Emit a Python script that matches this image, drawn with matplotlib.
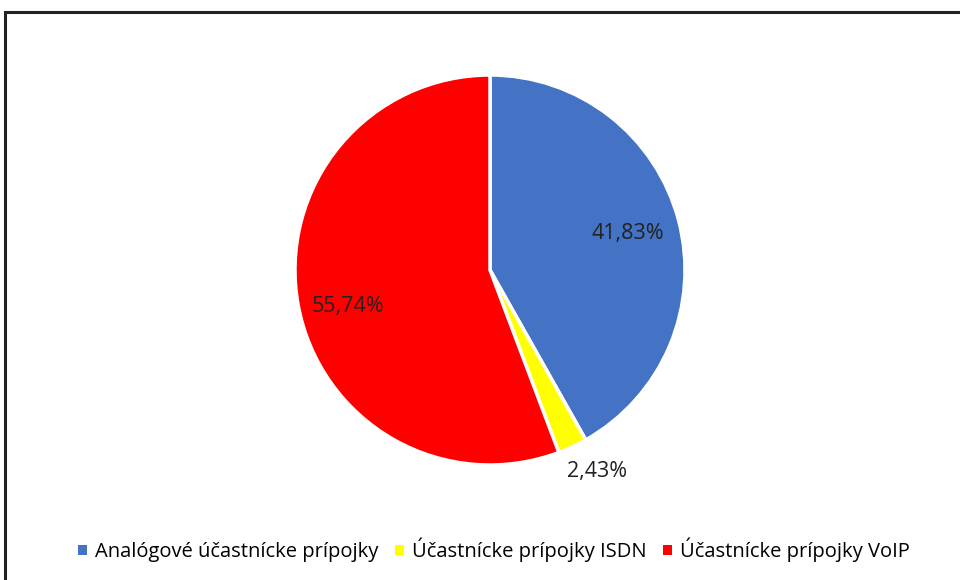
import numpy as np
import matplotlib
matplotlib.use("Agg")
from matplotlib import pyplot as plt
from matplotlib.patches import Rectangle, Patch

plt.rcParams["font.family"] = ["Open Sans", "DejaVu Sans"]

# data
categories = ["Analógové účastnícke prípojky", "Účastnícke prípojky ISDN", "Účastnícke prípojky VoIP"]
shares = [41.83, 2.43, 55.74]
colors = ["#4472C4", "#FFFF00", "#FF0000"]

fig = plt.figure(figsize=(9.6, 5.8), dpi=100)
ax = fig.add_axes([0, 0, 1, 1])

wedges, texts, autotexts = ax.pie(
    shares, colors=colors, startangle=90, counterclock=False,
    center=(490, 310), radius=195,
    autopct=lambda p: f"{p:.2f}%".replace(".", ","),
    pctdistance=0.73,
    wedgeprops=dict(edgecolor="white", linewidth=2.5),
    textprops=dict(fontsize=15.5, color="#222222"),
)
# pie resets limits, so set pixel-like limits afterwards
ax.set_xlim(0, 960)
ax.set_ylim(0, 580)
ax.set_aspect("equal")
ax.axis("off")

# outer chart frame (cut off at right and bottom like the reference)
fig.patches.append(Rectangle((5 / 960, -0.05), 1.1, 1 - 12 / 580 + 0.05,
                             transform=fig.transFigure, fill=False,
                             edgecolor="#222222", linewidth=2.2, clip_on=False))

# small slice label sits outside the pie
w = wedges[1]
mid = np.deg2rad((w.theta1 + w.theta2) / 2 + 3)
autotexts[1].set_position((490 + 1.17 * 195 * np.cos(mid), 310 + 1.17 * 195 * np.sin(mid)))
w = wedges[2]
mid = np.deg2rad((w.theta1 + w.theta2) / 2 + 4)
autotexts[2].set_position((490 + 0.75 * 195 * np.cos(mid), 310 + 0.75 * 195 * np.sin(mid)))

handles = [Patch(facecolor=c, edgecolor="none") for c in colors]
ax.legend(handles, categories, loc="center", bbox_to_anchor=(494 / 960, 30 / 580),
          bbox_transform=fig.transFigure, ncol=3, frameon=False, fontsize=14.5,
          handlelength=0.45, handleheight=0.45, handletextpad=0.4, columnspacing=0.8)

fig.savefig("out.png", dpi=100)
